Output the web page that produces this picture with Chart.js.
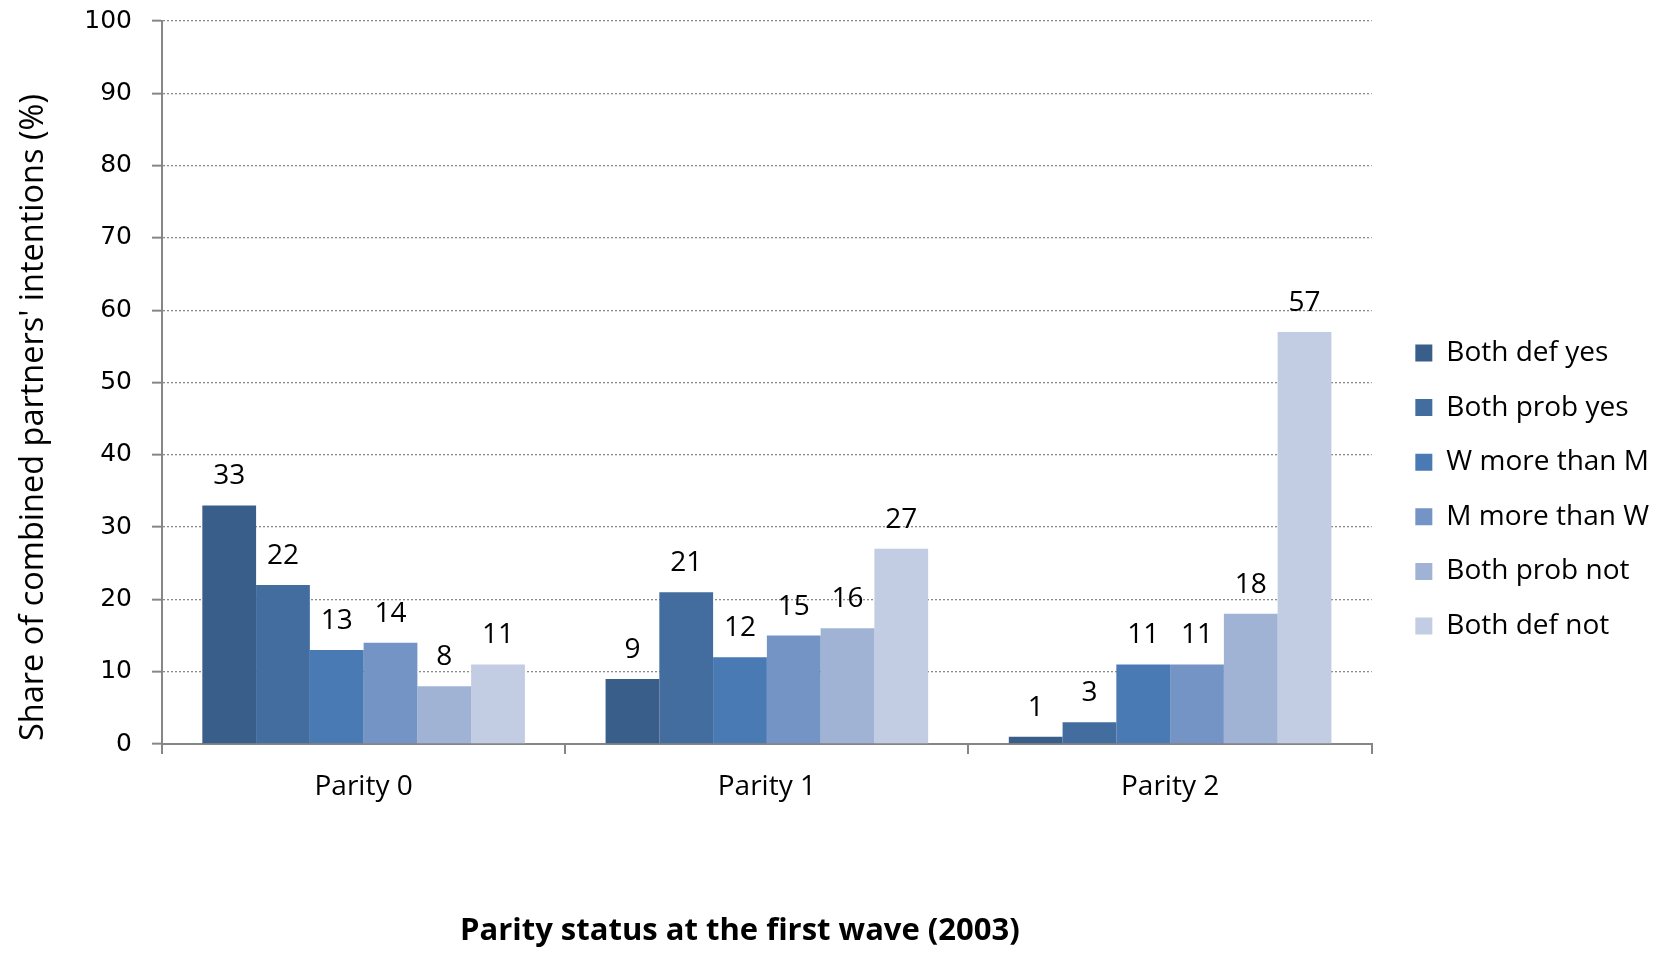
<!DOCTYPE html>
<html>
<head>
<meta charset="utf-8">
<title>Combined partners' intentions by parity</title>
<script src="https://cdn.jsdelivr.net/npm/chart.js@4.4.1/dist/chart.umd.min.js"></script>
<style>
  html, body { margin: 0; padding: 0; background: #ffffff; }
  #c { display: block; }
</style>
</head>
<body>
<canvas id="c" width="1659" height="953"></canvas>
<script>
// Categories (parity at first wave) and series (combined intention types)
const categories = ['Parity 0', 'Parity 1', 'Parity 2'];
const seriesNames = ['Both def yes', 'Both prob yes', 'W more than M', 'M more than W', 'Both prob not', 'Both def not'];

// Shares in percent, one value per parity group
const bothDefYes  = [33, 9, 1];
const bothProbYes = [22, 21, 3];
const wMoreThanM  = [13, 12, 11];
const mMoreThanW  = [14, 15, 11];
const bothProbNot = [8, 16, 18];
const bothDefNot  = [11, 27, 57];

// Value axis tick labels
const yTickValues = [0, 10, 20, 30, 40, 50, 60, 70, 80, 90, 100];

const yTitle = "Share of combined partners' intentions (%)";
const xTitle = 'Parity status at the first wave (2003)';

const seriesValues = [bothDefYes, bothProbYes, wMoreThanM, mMoreThanW, bothProbNot, bothDefNot];
const seriesColors = ['#3a5e8a', '#436c9f', '#4a7ab4', '#7494c5', '#a1b3d4', '#c2cce2'];

const FONT = '"Open Sans", "Noto Sans", sans-serif';
const AXIS_GREY = '#868686';

// Value labels written above every bar
const barValueLabels = {
  id: 'barValueLabels',
  afterDatasetsDraw(chart) {
    const ctx = chart.ctx;
    ctx.save();
    ctx.font = '28px ' + FONT;
    ctx.fillStyle = '#000000';
    ctx.textAlign = 'center';
    ctx.textBaseline = 'middle';
    chart.data.datasets.forEach((ds, i) => {
      const meta = chart.getDatasetMeta(i);
      meta.data.forEach((bar, j) => {
        ctx.fillText(String(ds.data[j]), bar.x, bar.y - 29);
      });
    });
    ctx.restore();
  }
};

// Axis titles, placed relative to the plot area
const axisTitles = {
  id: 'axisTitles',
  afterDraw(chart) {
    const { ctx, chartArea: a } = chart;
    ctx.save();
    ctx.fillStyle = '#000000';
    ctx.textAlign = 'center';
    ctx.textBaseline = 'middle';

    ctx.font = '32.5px ' + FONT;
    ctx.save();
    ctx.translate(34, (a.top + a.bottom) / 2 + 35);
    ctx.rotate(-Math.PI / 2);
    ctx.fillText(yTitle, 0, 0);
    ctx.restore();

    ctx.font = 'bold 31px ' + FONT;
    ctx.fillText(xTitle, (a.left + a.right) / 2 - 27, a.bottom + 187);
    ctx.restore();
  }
};

new Chart(document.getElementById('c'), {
  type: 'bar',
  data: {
    labels: categories,
    datasets: seriesNames.map((name, i) => ({
      label: name,
      data: seriesValues[i],
      backgroundColor: seriesColors[i],
      borderWidth: 0,
      categoryPercentage: 0.8,
      barPercentage: 1.0
    }))
  },
  options: {
    responsive: false,
    animation: false,
    devicePixelRatio: 1,
    layout: { padding: { top: 21, right: 0, bottom: -5, left: 0 } },
    plugins: {
      legend: {
        position: 'right',
        align: 'center',
        labels: {
          boxWidth: 17,
          boxHeight: 17,
          padding: 26.6,
          color: '#000000',
          font: { family: FONT, size: 28 }
        }
      },
      tooltip: { enabled: false }
    },
    scales: {
      x: {
        offset: true,
        grid: {
          display: true,
          drawOnChartArea: false,
          drawTicks: true,
          tickLength: 10,
          color: AXIS_GREY,
          lineWidth: 2
        },
        border: { display: true, color: AXIS_GREY, width: 2 },
        ticks: {
          color: '#000000',
          padding: 16,
          font: { family: FONT, size: 28 }
        },
        afterFit(scale) { scale.height = 214; }
      },
      y: {
        min: 0,
        max: 100,
        afterBuildTicks(scale) { scale.ticks = yTickValues.map(v => ({ value: v })); },
        grid: {
          color: '#8a8a8a',
          lineWidth: 1.3,
          tickColor: AXIS_GREY,
          tickWidth: 2,
          tickLength: 10,
          tickBorderDash: []
        },
        border: { display: true, color: AXIS_GREY, width: 2, dash: [2, 2] },
        ticks: {
          color: '#000000',
          padding: 20,
          font: { family: '"DejaVu Sans", sans-serif', size: 25 }
        },
        afterFit(scale) {
          scale.width = 162;
          scale.paddingTop = 0;
        }
      },
      gap: {
        position: 'right',
        display: true,
        grid: { display: false },
        border: { display: false },
        ticks: { display: false },
        afterFit(scale) { scale.width = 17; }
      }
    }
  },
  plugins: [barValueLabels, axisTitles]
});
</script>
</body>
</html>
